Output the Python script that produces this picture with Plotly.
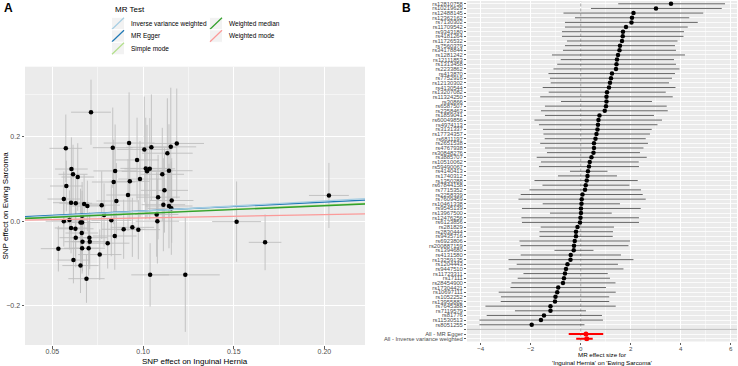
import plotly.graph_objects as go

W, H = 738, 366
FONT = "Liberation Sans"

# ---------------- Panel A data: SNP effects ----------------
bx = [0.0713, 0.0574, 0.0605, 0.0614, 0.0640, 0.0577, 0.0563, 0.0603, 0.0629, 0.0675,
      0.0693, 0.0664, 0.0833, 0.0846, 0.0838, 0.0853, 0.0917, 0.0923, 0.0927, 0.0967,
      0.0983, 0.1007, 0.1015, 0.1022, 0.1037, 0.1046, 0.1106, 0.1118, 0.1134, 0.1143,
      0.1153, 0.1186, 0.1083, 0.1112, 0.1143, 0.1158, 0.1156, 0.0772, 0.0785, 0.2025,
      0.1075, 0.0563, 0.0594, 0.0825, 0.1079, 0.1516, 0.0603, 0.0627, 0.0655, 0.0664,
      0.0662, 0.0629, 0.0704, 0.0666, 0.0706, 0.0664, 0.0700, 0.0533, 0.0616, 0.0655,
      0.0688, 0.0761, 0.0805, 0.0844, 0.0893, 0.0941, 0.0974, 0.1039, 0.1233, 0.1673]
by = [0.258, 0.1725, 0.1235, 0.111, 0.1046, 0.0833, 0.0525, 0.0438, 0.0424, 0.0407,
      0.036, 0.013, 0.174, 0.119, 0.0928, 0.0478, 0.062, 0.185, 0.0944, 0.145,
      0.0999, 0.170, 0.125, 0.118, 0.124, 0.175, 0.111, 0.073, 0.161, 0.1195,
      0.176, 0.184, 0.057, 0.039, 0.036, 0.049, 0.0305, 0.038, 0.0147, 0.061,
      0.016, 0.000, 0.003, 0.002, 0.000, -0.001, -0.016, -0.018, -0.003, -0.003,
      -0.028, -0.039, -0.039, -0.0485, -0.0485, -0.064, -0.064, -0.065, -0.092, -0.105,
      -0.136, -0.079, -0.052, -0.035, -0.019, -0.0145, -0.020, -0.127, -0.127, -0.050]
se_x = [0.011, 0.009, 0.009, 0.008, 0.009, 0.009, 0.009, 0.010, 0.009, 0.010,
        0.010, 0.012, 0.011, 0.012, 0.012, 0.011, 0.012, 0.014, 0.011, 0.012,
        0.012, 0.015, 0.014, 0.014, 0.014, 0.014, 0.012, 0.013, 0.014, 0.013,
        0.014, 0.015, 0.012, 0.012, 0.013, 0.012, 0.013, 0.010, 0.010, 0.011,
        0.012, 0.010, 0.010, 0.011, 0.012, 0.0135, 0.009, 0.010, 0.010, 0.010,
        0.009, 0.009, 0.010, 0.010, 0.010, 0.010, 0.009, 0.0097, 0.009, 0.010,
        0.010, 0.012, 0.012, 0.012, 0.012, 0.012, 0.012, 0.0104, 0.019, 0.009]
se_y = [0.077, 0.080, 0.075, 0.070, 0.080, 0.060, 0.065, 0.070, 0.060, 0.070,
        0.060, 0.080, 0.095, 0.110, 0.100, 0.090, 0.085, 0.120, 0.090, 0.100,
        0.090, 0.125, 0.120, 0.110, 0.120, 0.125, 0.110, 0.100, 0.130, 0.110,
        0.140, 0.130, 0.100, 0.110, 0.100, 0.100, 0.110, 0.080, 0.075, 0.077,
        0.100, 0.060, 0.070, 0.085, 0.100, 0.095, 0.060, 0.065, 0.080, 0.075,
        0.070, 0.070, 0.060, 0.070, 0.065, 0.060, 0.065, 0.054, 0.055, 0.065,
        0.057, 0.060, 0.060, 0.080, 0.070, 0.070, 0.070, 0.075, 0.135, 0.066]

# MR method fits (intercept, slope)
methods = ["Inverse variance weighted", "MR Egger", "Simple mode", "Weighted median", "Weighted mode"]
method_a = [0.0, 0.0033, 0.0, 0.0, 0.0]
method_b = [0.24, 0.21, 0.19, 0.183, 0.077]
method_col = ["#A6CEE3", "#1F78B4", "#B2DF8A", "#33A02C", "#FB9A99"]

XA_RANGE = [0.0349, 0.2224]
YA_RANGE = [-0.293, 0.3657]

# ---------------- Panel B data: single SNP estimates ----------------
snps = ["rs12810758", "rs10219629", "rs12488145", "rs12362162", "rs7130302", "rs11709542",
        "rs9343180", "rs4181264", "rs11726532", "rs7560379", "rs34178844", "rs1281242",
        "rs12111853", "rs1313458", "rs2233862", "rs413870", "rs7752916", "rs12130302",
        "rs4130544", "rs13207082", "rs11324250", "rs30866", "rs6587507", "rs2358463",
        "rs1859041", "rs60049856", "rs4974113", "rs3131337", "rs17734357", "rs6811197",
        "rs2651538", "rs4767938", "rs30848276", "rs3885707", "rs10510062", "rs59490067",
        "rs4140413", "rs1740312", "rs1350288", "rs67844158", "rs7715352", "rs2258339",
        "rs7609459", "rs10461338", "rs9545139", "rs13967500", "rs12476256", "rs6123856",
        "rs281829", "rs2830444", "rs9435716", "rs6923806", "rs200887159", "rs1394680",
        "rs4131580", "rs13259135", "rs1204443", "rs9447510", "rs11723311", "rs17111",
        "rs28454900", "rs17304421", "rs10697111", "rs1052252", "rs13955882", "rs7645388",
        "rs7119579", "rs81776", "rs11530513", "rs8051255"]
snp_b = [3.61, 3.01, 2.11, 2.05, 2.03, 1.81, 1.69, 1.68, 1.65, 1.57,
         1.55, 1.49, 1.45, 1.43, 1.41, 1.25, 1.21, 1.17, 1.13, 1.05,
         1.03, 1.03, 1.01, 0.96, 0.75, 0.71, 0.69, 0.67, 0.63, 0.59,
         0.53, 0.53, 0.51, 0.43, 0.36, 0.33, 0.29, 0.27, 0.24, 0.20,
         0.17, 0.07, 0.04, 0.03, 0.01, 0.01, -0.01, -0.03, -0.13, -0.19,
         -0.19, -0.24, -0.27, -0.28, -0.40, -0.41, -0.53, -0.59, -0.63, -0.67,
         -0.71, -0.90, -0.94, -1.01, -1.03, -1.21, -1.21, -1.47, -1.59, -1.96]
snp_lo = [1.50, 0.41, -0.69, -0.23, -0.63, -0.63, -0.75, -0.75, -0.55, -0.63,
          -0.71, -1.15, -0.80, -0.94, -1.09, -1.29, -1.23, -1.20, -1.52, -1.28,
          -1.62, -0.79, -1.43, -1.59, -1.43, -1.85, -1.67, -1.51, -1.49, -1.44,
          -1.62, -1.43, -1.35, -1.76, -1.59, -1.67, -0.43, -0.91, -1.85, -1.53,
          -2.05, -2.40, -2.49, -1.52, -2.35, -1.23, -2.37, -2.35, -1.60, -1.65,
          -1.65, -2.45, -2.41, -1.05, -2.40, -2.89, -2.56, -2.88, -2.29, -2.52,
          -2.77, -2.81, -3.28, -3.19, -3.20, -3.81, -2.63, -3.76, -4.05, -4.05]
snp_hi = [5.77, 5.64, 4.90, 4.34, 4.68, 4.28, 4.13, 4.11, 3.87, 3.77,
          3.81, 4.17, 3.73, 3.81, 3.95, 3.77, 3.65, 3.53, 3.79, 3.40,
          3.68, 2.85, 3.44, 3.48, 2.93, 3.25, 3.07, 2.84, 2.77, 2.60,
          2.69, 2.51, 2.37, 2.64, 2.32, 2.33, 1.07, 1.45, 2.28, 1.95,
          2.41, 2.48, 2.60, 1.57, 2.40, 1.24, 2.33, 2.33, 1.33, 1.29,
          1.28, 1.97, 1.91, 0.51, 1.61, 2.11, 1.49, 1.71, 1.08, 1.17,
          1.39, 1.01, 1.40, 1.14, 1.14, 1.40, 0.21, 0.85, 0.89, 0.15]
all_labels = ["All - MR Egger", "All - Inverse variance weighted"]
all_b = [0.21, 0.24]
all_lo = [-0.48, -0.18]
all_hi = [0.90, 0.48]

XB_TICKS = [-4, -2, 0, 2, 4, 6]
XB_RANGE = [-4.548, 6.25]


def px(x):
    return x / W


def py(y):
    return 1 - y / H


fig = go.Figure()

# ---- Panel A ----
fig.add_trace(go.Scatter(
    x=bx, y=by, mode="markers", xaxis="x", yaxis="y",
    marker=dict(color="black", size=4.5),
    error_x=dict(type="data", array=se_x, color="#BEBEBE", thickness=0.9, width=0),
    error_y=dict(type="data", array=se_y, color="#BEBEBE", thickness=0.9, width=0),
    showlegend=False, hoverinfo="skip"))

line_order = [1, 0, 2, 3, 4]
for i in line_order:
    xs = XA_RANGE
    ys = [method_a[i] + method_b[i] * v for v in xs]
    fig.add_trace(go.Scatter(x=xs, y=ys, mode="lines", xaxis="x", yaxis="y",
                             line=dict(color=method_col[i], width=1.3),
                             showlegend=False, hoverinfo="skip"))

# ---- Panel B ----
snp_y = list(range(1, len(snps) + 1))
blank_y = len(snps) + 1
all_y = [blank_y + 1 + i for i in range(len(all_labels))]
n_rows = len(snps) + 1 + len(all_labels)

# separator line at blank row and dashed zero line, drawn as traces under the points
fig.add_trace(go.Scatter(x=XB_RANGE, y=[blank_y, blank_y], mode="lines", xaxis="x2", yaxis="y2",
                         line=dict(color="#BEBEBE", width=1), showlegend=False, hoverinfo="skip"))
fig.add_trace(go.Scatter(x=[0, 0], y=[n_rows + 0.6, 0.4], mode="lines", xaxis="x2", yaxis="y2",
                         line=dict(color="#A8A8A8", width=1, dash="3px,2px"),
                         showlegend=False, hoverinfo="skip"))

fig.add_trace(go.Scatter(
    x=snp_b, y=snp_y, mode="markers", xaxis="x2", yaxis="y2",
    marker=dict(color="black", size=4.5),
    error_x=dict(type="data", symmetric=False,
                 array=[h - b for h, b in zip(snp_hi, snp_b)],
                 arrayminus=[b - l for b, l in zip(snp_b, snp_lo)],
                 color="#555555", thickness=0.9, width=0),
    showlegend=False, hoverinfo="skip"))
fig.add_trace(go.Scatter(
    x=all_b, y=all_y, mode="markers", xaxis="x2", yaxis="y2",
    marker=dict(color="red", size=5),
    error_x=dict(type="data", symmetric=False,
                 array=[h - b for h, b in zip(all_hi, all_b)],
                 arrayminus=[b - l for b, l in zip(all_b, all_lo)],
                 color="red", thickness=2, width=0),
    showlegend=False, hoverinfo="skip"))

axis_common = dict(showline=False, zeroline=False, gridcolor="white", gridwidth=1,
                   ticks="outside", ticklen=2.5, tickcolor="#333333", tickwidth=0.8,
                   tickfont=dict(family=FONT, size=7, color="#4D4D4D"))

fig.update_layout(
    width=W, height=H, margin=dict(l=0, r=0, t=0, b=0),
    paper_bgcolor="white", plot_bgcolor="#EBEBEB",
    font=dict(family=FONT), hovermode=False,
    xaxis=dict(domain=[px(25), px(365)], anchor="y", range=XA_RANGE,
               tickvals=[0.05, 0.10, 0.15, 0.20], tickformat=".2f",
               ticklabelstandoff=-3,
               minor=dict(tickvals=[0.075, 0.125, 0.175], showgrid=True,
                          gridcolor="white", gridwidth=0.5, ticks=""),
               **axis_common),
    yaxis=dict(domain=[py(345), py(66.7)], anchor="x", range=YA_RANGE,
               tickvals=[-0.2, 0.0, 0.2], tickformat=".1f",
               minor=dict(tickvals=[-0.1, 0.1, 0.3], showgrid=True,
                          gridcolor="white", gridwidth=0.5, ticks=""),
               **axis_common),
    xaxis2=dict(domain=[px(467), px(737)], anchor="y2", range=XB_RANGE,
                tickvals=XB_TICKS, ticklabelstandoff=-1,
                minor=dict(tickvals=[-3, -1, 1, 3, 5], showgrid=True,
                           gridcolor="white", gridwidth=0.5, ticks=""),
                **{**axis_common, "tickfont": dict(family=FONT, size=6.2, color="#4D4D4D")}),
    yaxis2=dict(domain=[py(341.5), py(1)], anchor="x2",
                range=[n_rows + 0.6, 0.4],
                tickvals=snp_y + [blank_y] + all_y,
                ticktext=snps + [""] + all_labels,
                **{**axis_common, "gridwidth": 0.8, "ticklen": 2,
                   "tickfont": dict(family=FONT, size=5.8, color="#4D4D4D")}),
)

shapes = []
annotations = []
# legend (manual, ggplot style keys)
annotations.append(dict(x=px(112.5), y=py(9.5), xref="paper", yref="paper", text="MR Test",
                        showarrow=False, xanchor="left", yanchor="middle",
                        font=dict(family=FONT, size=8, color="black")))
key_w, key_h = 13, 12.5
cols = [(111.5, 129), (209.5, 227)]
row_top = 17.3
for k, name in enumerate(methods):
    c = k // 3
    r = k % 3
    kx, tx = cols[c]
    y0 = row_top + r * key_h
    shapes.append(dict(type="rect", xref="paper", yref="paper",
                       x0=px(kx), x1=px(kx + key_w), y0=py(y0 + key_h), y1=py(y0),
                       fillcolor="#F2F2F2", line=dict(color="white", width=1)))
    shapes.append(dict(type="line", xref="paper", yref="paper",
                       x0=px(kx + 0.5), x1=px(kx + key_w - 0.5),
                       y0=py(y0 + key_h - 0.5), y1=py(y0 + 0.5),
                       line=dict(color=method_col[k], width=1.2)))
    annotations.append(dict(x=px(tx), y=py(y0 + key_h / 2), xref="paper", yref="paper",
                            text=name, showarrow=False, xanchor="left", yanchor="middle",
                            font=dict(family=FONT, size=6.5, color="black")))

# panel labels
annotations.append(dict(x=px(2), y=py(8.5), xref="paper", yref="paper", text="<b>A</b>",
                        showarrow=False, xanchor="left", yanchor="middle",
                        font=dict(family=FONT, size=12, color="black")))
annotations.append(dict(x=px(399.5), y=py(7.8), xref="paper", yref="paper", text="<b>B</b>",
                        showarrow=False, xanchor="left", yanchor="middle",
                        font=dict(family=FONT, size=12, color="black")))
# axis titles
annotations.append(dict(x=px(195), y=py(361), xref="paper", yref="paper",
                        text="SNP effect on Inguinal Hernia", showarrow=False,
                        xanchor="center", yanchor="middle",
                        font=dict(family=FONT, size=8, color="black")))
annotations.append(dict(x=px(5.5), y=py(206), xref="paper", yref="paper",
                        text="SNP effect on Ewing Sarcoma", showarrow=False, textangle=-90,
                        xanchor="center", yanchor="middle",
                        font=dict(family=FONT, size=8, color="black")))
annotations.append(dict(x=px(602), y=py(358.7), xref="paper", yref="paper",
                        text="MR effect size for<br>'Inguinal Hernia' on 'Ewing Sarcoma'",
                        showarrow=False, xanchor="center", yanchor="middle",
                        font=dict(family=FONT, size=6.2, color="black")))

fig.update_layout(shapes=shapes, annotations=annotations)
fig.write_html("out.html", config={"displayModeBar": False, "staticPlot": True},
               post_script="document.body.style.margin='0px';document.body.style.padding='0px';")
